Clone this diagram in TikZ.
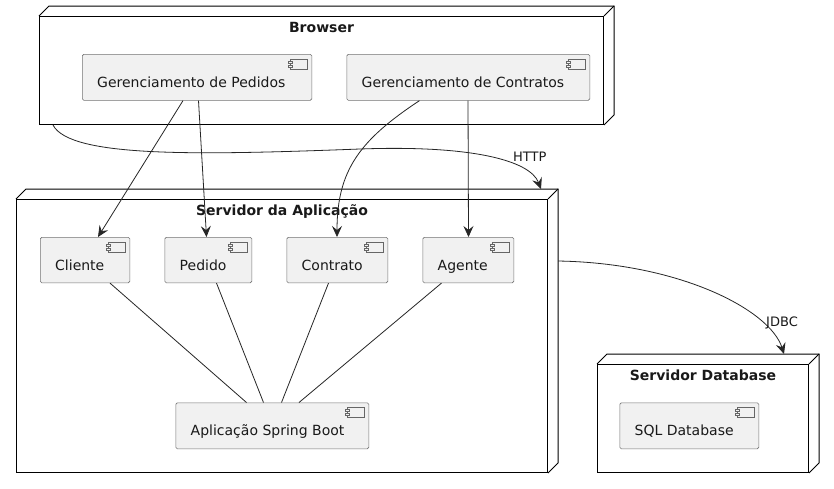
\documentclass[tikz,border=0pt]{standalone}
\usepackage{fontspec}
\setmainfont{DejaVu Sans}
\usetikzlibrary{arrows.meta}
\tikzset{
  nodebox/.style={draw=black, fill=white, line width=1pt, inner sep=0pt, anchor=north west},
  nodeedge/.style={draw=black, line width=1pt, line join=miter},
  compbox/.style={draw=black!55, fill=black!5.5, line width=0.6pt, rounded corners=1.5pt, inner sep=0pt, anchor=north west},
  comptext/.style={font=\fontsize{14}{16}\selectfont, inner sep=0pt, anchor=base west, text=black!90},
  titletext/.style={font=\fontsize{14}{16}\selectfont\bfseries, inner sep=0pt, anchor=base, text=black!90},
  lbl/.style={font=\fontsize{13}{15}\selectfont, inner sep=0pt, anchor=west, text=black!90},
  iconline/.style={draw=black!60, line width=0.5pt},
  conn/.style={draw=black!85, line width=0.8pt},
  arr/.style={conn, -{Stealth[length=11pt, width=10pt, inset=4pt]}},
}
\newcommand\depnode[6]{%
  \node[nodebox, minimum width=#4pt-#2pt, minimum height=#5pt-#3pt] (#1) at (#2,#3) {};
  \draw[nodeedge] (#1.north west) -- ++(10pt,10pt) -- ([shift={(10pt,10pt)}]#1.north east)
     -- ([shift={(10pt,10pt)}]#1.south east) -- (#1.south east);
  \draw[nodeedge] ([shift={(10pt,10pt)}]#1.north east) -- (#1.north east);
  \node[titletext] (#1-t) at ([yshift=-16pt]#1.north) {#6};
}
\newcommand\compo[6]{%
  \node[compbox, minimum width=#4pt, minimum height=#5pt] (#1) at (#2,#3) {};
  \node[comptext] (#1-t) at ([xshift=15pt,yshift=-33pt]#1.north west) {#6};
  \draw[iconline, fill=black!5.5] ([shift={(-22pt,-5pt)}]#1.north east) rectangle ([shift={(-5pt,-15pt)}]#1.north east);
  \draw[iconline, fill=black!5.5] ([shift={(-24pt,-7pt)}]#1.north east) rectangle ([shift={(-20pt,-9pt)}]#1.north east);
  \draw[iconline, fill=black!5.5] ([shift={(-24pt,-11pt)}]#1.north east) rectangle ([shift={(-20pt,-13pt)}]#1.north east);
}
\begin{document}
\begin{tikzpicture}[x=1pt, y=-1pt]
\useasboundingbox[fill=white] (0,0) rectangle (834,488);

\depnode{br}{39}{16}{603}{124}{Browser}
\depnode{sa}{16}{199}{547}{472}{Servidor da Aplicação}
\depnode{sd}{597}{364}{808}{472}{Servidor Database}

\compo{gp}{82}{54}{229.5}{46}{Gerenciamento de Pedidos}
\compo{gc}{346.5}{54}{243}{46}{Gerenciamento de Contratos}
\compo{cli}{40}{237}{89.5}{45.5}{Cliente}
\compo{ped}{164.5}{237}{87}{45.5}{Pedido}
\compo{con}{286.5}{237}{101}{45.5}{Contrato}
\compo{ag}{422.5}{237}{91}{45.5}{Agente}
\compo{sb}{175.5}{402.5}{193}{46}{Aplicação Spring Boot}
\compo{sql}{619.5}{402.5}{139}{46}{SQL Database}

% arrows
\draw[arr] ([xshift=101pt]gp.south west) -- ([xshift=58pt]cli.north west);
\draw[arr] ([xshift=116.5pt]gp.south west) -- ([xshift=42pt]ped.north west);
\draw[arr] ([xshift=73pt]gc.south west) .. controls (360,140) and (337,170) .. ([xshift=50.5pt]con.north west);
\draw[arr] ([xshift=121.5pt]gc.south west) -- ([xshift=46pt]ag.north west);
\draw[arr] ([xshift=14pt]br.south west) .. controls (70,158) and (200,155) .. (360,149)
   .. controls (470,145) and (530,160) .. ([shift={(-7pt,10pt)}]sa.north east);
\draw[arr] ([shift={(10pt,-62pt)}]sa.north east) .. controls (680,263) and (770,310) .. ([shift={(-25pt,10pt)}]sd.north east);
\node[lbl] (http) at (513,157) {HTTP};
\node[lbl] (jdbc) at (766,323) {JDBC};

% plain lines
\draw[conn] ([xshift=70pt]cli.south west) -- ([xshift=71pt]sb.north west);
\draw[conn] ([xshift=52pt]ped.south west) -- ([xshift=88pt]sb.north west);
\draw[conn] ([xshift=42pt]con.south west) -- ([xshift=106pt]sb.north west);
\draw[conn] ([xshift=19pt]ag.south west) -- ([xshift=123.5pt]sb.north west);
\end{tikzpicture}
\end{document}
